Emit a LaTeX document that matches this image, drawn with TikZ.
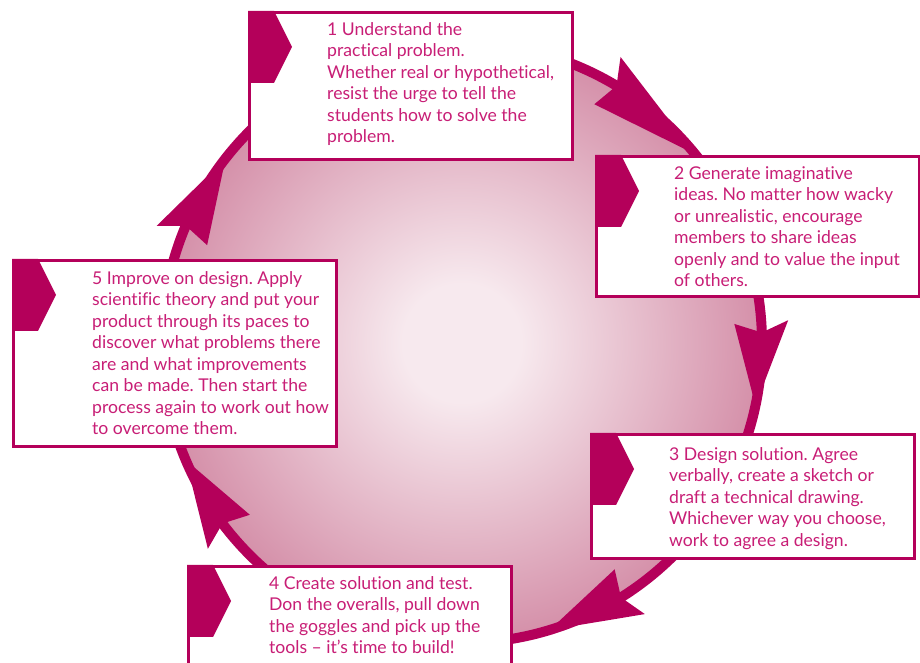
\documentclass[tikz,border=0pt]{standalone}
\usepackage{fontspec}
\setmainfont{Lato}[Ligatures=NoCommon]
\usetikzlibrary{positioning}
\frenchspacing
\definecolor{cyclemag}{RGB}{180,0,90}
\definecolor{stagetxt}{RGB}{200,30,118}
\definecolor{pinkhi}{RGB}{247,233,238}
\definecolor{pinklo}{RGB}{213,145,170}
\pgfdeclareradialshading{pinkball}{\pgfpoint{0bp}{0bp}}{color(0bp)=(pinkhi); color(5bp)=(pinkhi); color(25bp)=(pinklo); color(50bp)=(pinklo)}

\begin{document}
\begin{tikzpicture}[x=1pt, y=1pt]
  \tikzstyle{stagebox} = [rectangle, draw=cyclemag, fill=white, line width=3pt, minimum width=323pt, inner sep=0pt, anchor=north west]
  \tikzstyle{stagetext} = [align=left, inner sep=0pt, font=\fontsize{17.6}{21.5}\selectfont, text=stagetxt]

  \clip (0,0) rectangle (920,663);

  % wheel with its five arrowheads
  \begin{scope}[shift={(462,320)}]
    \shade[shading=pinkball] (0,0) circle (296);
    \draw[cyclemag, line width=10pt] (0,0) circle (300);
    \foreach \b/\t in {61/39, 4/-12, -56/-73, 219/203, 159/142}
      \fill[cyclemag] (\t:300) -- (\b:327) -- (\b-2:300) -- (\b:273) -- cycle;
  \end{scope}

  \node[stagebox, minimum height=147pt] (understand) at (248,652) {};
  \node[stagebox, minimum height=140pt] (generate) at (595,508) {};
  \node[stagebox, minimum height=124pt] (design) at (590,230) {};
  \node[stagebox, minimum height=130pt] (build) at (187,98) {};
  \node[stagebox, minimum height=186pt] (improve) at (12,404) {};

  \foreach \s in {understand, generate, design, build, improve}
    \fill[cyclemag] (\s.north west) -- ++(26,0) -- ++(18,-36) -- ++(-18,-36) -- ++(-26,0) -- cycle;

  \node[stagetext, below right=11pt and 79pt of understand.north west] (understandtxt) {1 Understand the\\practical problem.\\Whether real or hypothetical,\\resist the urge to tell the\\students how to solve the\\problem.};
  \node[stagetext, below right=11pt and 79pt of generate.north west] (generatetxt) {2 Generate imaginative\\ideas. No matter how wacky\\or unrealistic, encourage\\members to share ideas\\openly and to value the input\\of others.};
  \node[stagetext, below right=14pt and 79pt of design.north west] (designtxt) {3 Design solution. Agree\\verbally, create a sketch or\\draft a technical drawing.\\Whichever way you choose,\\work to agree a design.};
  \node[stagetext, below right=11pt and 82pt of build.north west] (buildtxt) {4 Create solution and test.\\Don the overalls, pull down\\the goggles and pick up the\\tools – it’s time to build!};
  \node[stagetext, below right=12pt and 80pt of improve.north west] (improvetxt) {5 Improve on design. Apply\\scientific theory and put your\\product through its paces to\\discover what problems there\\are and what improvements\\can be made. Then start the\\process again to work out how\\to overcome them.};
\end{tikzpicture}
\end{document}
